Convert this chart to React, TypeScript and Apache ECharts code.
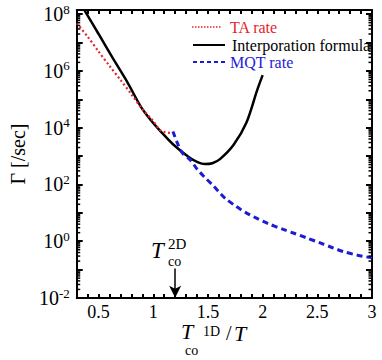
import React, { useEffect, useRef } from 'react';
import * as echarts from 'echarts';

// TA rate (red dotted)
const taX = [0.30, 0.40, 0.50, 0.60, 0.70, 0.80, 0.90, 1.00, 1.06, 1.10, 1.15, 1.175];
const taY = [4.8e7, 1.6e7, 4.8e6, 1.5e6, 4.8e5, 1.5e5, 4.5e4, 1.7e4, 8.3e3, 7.1e3, 6.6e3, 7.4e3];
// Interporation formula (black solid)
const interpX = [0.37, 0.50, 0.63, 0.76, 0.89, 0.98, 1.065, 1.18, 1.33, 1.41, 1.47, 1.54, 1.61, 1.735, 1.85, 1.95, 2.0];
const interpY = [1.38e8, 2.0e7, 2.8e6, 4.2e5, 5.2e4, 1.8e4, 7.6e3, 2.6e3, 890, 600, 525, 560, 780, 2.5e3, 1.45e4, 2.1e5, 7.1e5];
// MQT rate (blue dashed)
const mqtX = [1.18, 1.22, 1.265, 1.34, 1.40, 1.47, 1.55, 1.61, 1.66, 1.76, 1.85, 1.93, 2.05, 2.2, 2.28, 2.4, 2.52, 2.64, 2.74, 2.87, 3.0];
const mqtY = [7.4e3, 2.9e3, 1.3e3, 720, 350, 180, 89, 50, 32, 16.6, 10, 6.9, 4.2, 2.5, 1.95, 1.32, 0.89, 0.59, 0.43, 0.32, 0.26];

const seriesNames = ['TA rate', 'Interporation formula', 'MQT rate'];
const X_MIN = 0.3;
const X_MAX = 3;
const Y_MIN = 0.01;
const Y_MAX = 1.4e8;
const Y_DECADES = [0.01, 0.1, 1, 10, 100, 1e3, 1e4, 1e5, 1e6, 1e7, 1e8];
const Y_LABELS = [0.01, 1, 100, 1e4, 1e6, 1e8];
const MINOR_MULTS = [2, 3, 4, 5, 6, 7, 8, 9];
const ARROW_X = 1.2;
const ARROW_Y = [0.11, 0.0102];

const FONT = 'Liberation Serif';
const RED = '#e3262b';
const BLUE = '#1c1cd2';

export default function App() {
  const ref = useRef<HTMLDivElement>(null);
  useEffect(() => {
    const chart = echarts.init(ref.current!, undefined, { renderer: 'svg' });
    const minorVals: number[] = [];
    for (const d of Y_DECADES) {
      for (const m of MINOR_MULTS) {
        const v = m * d;
        if (v <= Y_MAX) minorVals.push(v);
      }
    }
    const yFmt = (v: number) => {
      const e = Math.round(Math.log10(v));
      return `{b|10}{s|${e}}`;
    };
    const xFmt = (v: number) => {
      const h = v * 2;
      return Math.abs(h - Math.round(h)) < 1e-6 ? String(Math.round(v * 10) / 10) : '';
    };
    const axisLine = { show: true, onZero: false, lineStyle: { color: '#000', width: 2 } };
    const xTick = { show: true, inside: true, length: 4, lineStyle: { color: '#000', width: 2 } };
    const yTick = { show: true, inside: true, length: 6, customValues: Y_DECADES, lineStyle: { color: '#000', width: 2 } };
    const xBase = {
      type: 'value', min: X_MIN, max: X_MAX, interval: 0.1,
      axisLine, splitLine: { show: false }, axisTick: xTick,
    };
    const yBase = {
      type: 'log', logBase: 10, min: Y_MIN, max: Y_MAX,
      axisLine, splitLine: { show: false }, axisTick: yTick,
    };
    const mk = (xs: number[], ys: number[]) => xs.map((x, i) => [x, ys[i]]);
    const txt = (text: string, x: number, y: number, size: number, italic = false, color = '#000') => ({
      type: 'text', x, y, silent: true,
      style: {
        text, fill: color, fontSize: size, fontFamily: FONT,
        fontStyle: italic ? 'italic' : 'normal', textAlign: 'left', textVerticalAlign: 'middle',
      },
    });
    const lgLine = (x1: number, x2: number, y: number, color: string, width: number, dash: number[] | null) => ({
      type: 'line', silent: true,
      shape: { x1, y1: y, x2, y2: y },
      style: { stroke: color, lineWidth: width, lineDash: dash || undefined },
    });

    chart.setOption({
      animation: false,
      backgroundColor: '#fff',
      grid: { left: 62, right: 10, top: 10, bottom: 62, containLabel: false },
      xAxis: [
        {
          ...xBase, position: 'bottom',
          axisLabel: { formatter: xFmt, margin: 5, fontSize: 18, fontFamily: FONT, color: '#000' },
        },
        { ...xBase, position: 'top', axisLabel: { show: false } },
      ],
      yAxis: [
        {
          ...yBase, position: 'left',
          axisLabel: {
            formatter: yFmt, margin: 7, customValues: Y_LABELS,
            rich: {
              b: { fontSize: 20, fontFamily: FONT, color: '#000' },
              s: { fontSize: 13, fontFamily: FONT, color: '#000', padding: [0, 0, 10, 0] },
            },
          },
          name: 'Γ [/sec]', nameLocation: 'middle', nameGap: 42,
          nameTextStyle: { fontSize: 20, fontFamily: FONT, color: '#000' },
        },
        { ...yBase, position: 'right', axisLabel: { show: false } },
      ],
      series: [
        {
          name: seriesNames[0], type: 'line', data: mk(taX, taY), smooth: 0.3, showSymbol: false, symbol: 'none',
          lineStyle: { color: RED, width: 2.2, type: [2, 2.5] }, itemStyle: { color: RED }, z: 3,
        },
        {
          name: seriesNames[1], type: 'line', data: mk(interpX, interpY), smooth: 0.3, showSymbol: false, symbol: 'none',
          lineStyle: { color: '#000', width: 2.5 }, itemStyle: { color: '#000' }, z: 2,
        },
        {
          name: seriesNames[2], type: 'line', data: mk(mqtX, mqtY), smooth: 0.3, showSymbol: false, symbol: 'none',
          lineStyle: { color: BLUE, width: 3, type: [6, 4] }, itemStyle: { color: BLUE }, z: 4,
          markLine: {
            silent: true, symbol: ['none', 'arrow'], symbolSize: [9, 12],
            label: { show: false },
            lineStyle: { color: '#000', width: 1.5, type: 'solid' },
            data: [[{ coord: [ARROW_X, ARROW_Y[0]] }, { coord: [ARROW_X, ARROW_Y[1]] }]],
          },
        },
        {
          type: 'custom', silent: true, z: 10,
          data: minorVals.map((v) => [X_MIN, v]),
          renderItem: (params: any, api: any) => {
            const cs = params.coordSys;
            const y = api.coord([X_MIN, api.value(1)])[1];
            const st = { stroke: '#000', lineWidth: 1.5 };
            return {
              type: 'group',
              children: [
                { type: 'line', shape: { x1: cs.x, y1: y, x2: cs.x + 3.5, y2: y }, style: st },
                { type: 'line', shape: { x1: cs.x + cs.width - 3.5, y1: y, x2: cs.x + cs.width, y2: y }, style: st },
              ],
            };
          },
        },
      ],
      graphic: [
        // legend
        lgLine(192, 221, 27, RED, 1.5, [1.5, 1.5]),
        txt(seriesNames[0], 230, 27, 16, false, RED),
        lgLine(193, 225, 45, '#000', 2, null),
        txt(seriesNames[1], 232, 45, 16, false, '#000'),
        lgLine(193, 225, 62, BLUE, 2, [4, 3]),
        txt(seriesNames[2], 230, 62, 16, false, BLUE),
        // T_co^2D annotation
        txt('T', 151, 250, 23, true),
        txt('2D', 168, 244, 15),
        txt('co', 168, 261, 14),
        // x axis title T_co^1D / T
        txt('T', 181, 331, 22, true),
        txt('co', 185, 350, 14),
        txt('1D', 203, 331, 14),
        txt('/', 226, 333, 20),
        txt('T', 234, 333, 22, true),
      ],
    });
    return () => chart.dispose();
  }, []);
  return <div ref={ref} style={{ position: 'fixed', left: 0, top: 0, width: 382, height: 360 }} />;
}
